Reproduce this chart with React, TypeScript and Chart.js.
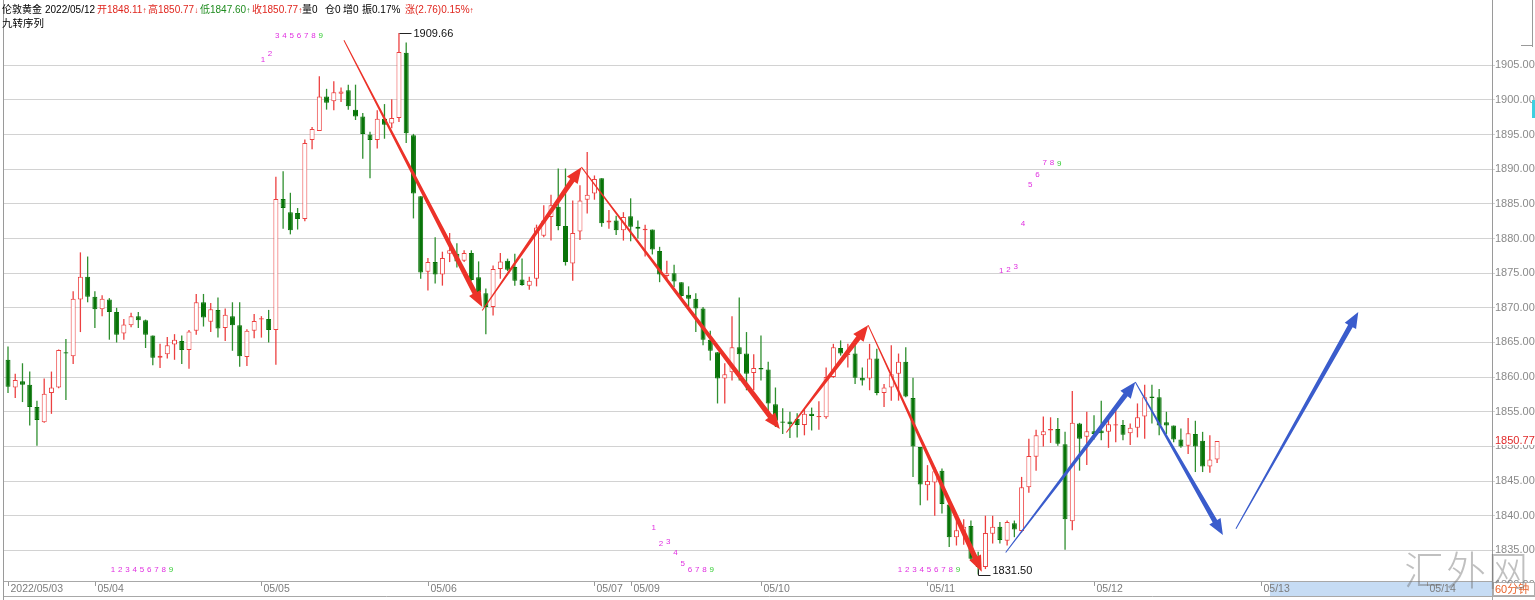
import React, { useEffect, useRef } from 'react';
import { Chart, registerables } from 'chart.js';
Chart.register(...registerables);

// ---- data (60-minute candles, index = bar number) ----
const OPEN = [
  1862.5, 1858.5, 1859.4, 1858.9, 1855.7, 1853.5, 1857.7, 1858.5, 1863.6, 1863.0,
  1871.2, 1874.5, 1871.6, 1869.8, 1871.2, 1869.4, 1866.3, 1867.5, 1868.8, 1868.2,
  1866.0, 1862.8, 1863.3, 1864.7, 1865.2, 1863.9, 1866.7, 1870.8, 1868.0, 1869.7,
  1867.1, 1868.8, 1867.5, 1862.9, 1866.7, 1868.3, 1868.4, 1866.8, 1885.7, 1883.8,
  1883.7, 1882.8, 1894.2, 1895.5, 1900.5, 1899.8, 1900.9, 1901.4, 1898.6, 1897.6,
  1895.0, 1894.2, 1897.3, 1896.6, 1897.4, 1906.8, 1894.9, 1886.1, 1875.2, 1876.6,
  1874.8, 1877.8, 1877.8, 1876.8, 1877.9, 1874.4, 1872.1, 1870.1, 1875.6, 1876.8,
  1875.9, 1874.1, 1873.2, 1874.2, 1880.4, 1883.1, 1884.6, 1881.8, 1876.4, 1881.0,
  1885.6, 1886.5, 1888.7, 1882.3, 1882.6, 1881.2, 1883.2, 1881.7, 1881.2, 1881.3,
  1878.2, 1874.6, 1875.0, 1873.7, 1871.9, 1871.3, 1869.9, 1865.4, 1863.6, 1859.8,
  1860.7, 1864.3, 1863.4, 1860.6, 1861.3, 1861.1, 1856.1, 1853.6, 1853.6, 1854.0,
  1853.1, 1854.7, 1854.2, 1854.2, 1860.0, 1864.2, 1863.2, 1863.4, 1859.9, 1859.8,
  1862.7, 1857.7, 1858.5, 1860.5, 1862.2, 1857.0, 1849.9, 1844.4, 1844.8, 1846.5,
  1841.6, 1836.9, 1837.6, 1838.5, 1833.8, 1832.6, 1837.4, 1838.4, 1836.4, 1838.9,
  1837.8, 1844.1, 1848.5, 1851.6, 1852.3, 1852.5, 1850.3, 1839.2, 1853.3, 1851.4,
  1852.2, 1852.3, 1852.1, 1853.0, 1853.1, 1851.9, 1852.7, 1854.3, 1857.2, 1857.1,
  1853.5, 1853.0, 1851.0, 1850.1, 1851.8, 1850.8, 1847.1, 1848.11,
];
const HIGH = [
  1864.4, 1860.5, 1862.0, 1860.8, 1856.6, 1859.8, 1860.8, 1864.0, 1865.5, 1872.4,
  1878.0, 1877.4, 1872.4, 1871.8, 1871.4, 1870.0, 1868.4, 1869.3, 1869.4, 1868.3,
  1866.0, 1864.8, 1865.8, 1866.2, 1866.0, 1866.8, 1872.0, 1872.0, 1870.7, 1871.5,
  1869.9, 1870.8, 1870.8, 1866.9, 1869.1, 1868.8, 1869.7, 1888.9, 1889.7, 1886.6,
  1884.4, 1894.3, 1896.1, 1903.4, 1901.6, 1902.7, 1901.8, 1902.2, 1902.2, 1898.1,
  1895.4, 1898.5, 1899.4, 1900.1, 1909.66, 1908.3, 1895.1, 1886.1, 1877.2, 1880.2,
  1878.1, 1880.8, 1879.3, 1878.3, 1878.3, 1876.7, 1872.8, 1876.1, 1877.9, 1877.1,
  1877.8, 1877.1, 1874.5, 1882.0, 1884.8, 1886.3, 1890.1, 1890.1, 1885.5, 1887.7,
  1892.5, 1889.1, 1888.7, 1884.1, 1883.3, 1883.8, 1885.8, 1882.6, 1882.0, 1881.3,
  1878.8, 1876.8, 1876.2, 1873.7, 1873.1, 1872.1, 1870.1, 1866.7, 1863.6, 1862.0,
  1868.8, 1871.5, 1866.5, 1863.3, 1866.0, 1862.2, 1858.5, 1855.5, 1855.0, 1854.8,
  1855.4, 1855.6, 1856.5, 1861.4, 1864.8, 1865.3, 1864.8, 1864.8, 1861.4, 1864.8,
  1864.1, 1859.0, 1864.6, 1863.4, 1864.3, 1859.9, 1849.9, 1847.3, 1847.0, 1846.8,
  1841.6, 1839.3, 1839.5, 1839.3, 1834.8, 1840.0, 1840.0, 1839.1, 1839.3, 1839.3,
  1845.6, 1851.1, 1852.4, 1854.3, 1854.2, 1854.1, 1852.1, 1858.0, 1853.4, 1855.0,
  1854.5, 1856.6, 1854.2, 1855.7, 1853.8, 1853.3, 1856.2, 1858.9, 1858.9, 1858.3,
  1855.0, 1853.0, 1852.6, 1854.1, 1853.7, 1852.1, 1851.6, 1850.77,
];
const LOW = [
  1857.7, 1857.0, 1856.4, 1853.0, 1850.1, 1853.4, 1854.7, 1858.4, 1856.7, 1861.9,
  1866.5, 1870.8, 1867.1, 1868.8, 1865.4, 1865.0, 1865.4, 1867.2, 1867.1, 1864.2,
  1861.7, 1861.3, 1862.7, 1862.5, 1861.9, 1861.2, 1866.1, 1867.3, 1866.5, 1865.7,
  1865.2, 1863.8, 1861.5, 1861.6, 1865.6, 1865.7, 1865.0, 1861.8, 1881.4, 1880.6,
  1881.3, 1882.5, 1892.9, 1895.5, 1898.6, 1898.5, 1899.7, 1898.6, 1897.1, 1891.5,
  1888.7, 1893.0, 1894.4, 1895.9, 1896.8, 1893.8, 1882.9, 1874.2, 1872.5, 1873.5,
  1873.2, 1876.6, 1875.8, 1876.6, 1873.9, 1871.5, 1866.2, 1868.9, 1874.2, 1875.3,
  1873.2, 1873.2, 1872.6, 1873.1, 1880.2, 1879.7, 1881.2, 1876.1, 1873.9, 1879.8,
  1883.6, 1885.6, 1881.7, 1881.4, 1880.5, 1879.7, 1879.6, 1880.0, 1877.4, 1877.7,
  1873.7, 1873.9, 1873.0, 1871.6, 1869.9, 1866.5, 1864.6, 1862.4, 1856.2, 1856.2,
  1859.5, 1859.5, 1858.1, 1858.1, 1859.5, 1854.7, 1852.8, 1851.8, 1851.2, 1851.3,
  1851.6, 1852.3, 1852.4, 1854.0, 1859.9, 1863.1, 1861.4, 1859.0, 1858.8, 1858.1,
  1857.4, 1855.7, 1856.6, 1856.6, 1857.1, 1845.6, 1841.5, 1842.2, 1840.0, 1840.3,
  1835.5, 1835.7, 1835.8, 1833.5, 1831.5, 1832.3, 1836.0, 1836.0, 1835.7, 1836.9,
  1837.6, 1843.3, 1846.5, 1850.0, 1850.5, 1850.1, 1835.1, 1837.9, 1846.5, 1847.3,
  1851.0, 1850.9, 1849.8, 1850.6, 1850.9, 1850.2, 1851.3, 1851.1, 1853.3, 1851.6,
  1851.8, 1850.6, 1849.8, 1848.9, 1846.3, 1846.3, 1846.2, 1847.6,
];
const CLOSE = [
  1858.6, 1859.6, 1858.9, 1855.7, 1853.8, 1857.6, 1858.5, 1863.9, 1863.4, 1871.3,
  1874.5, 1871.6, 1869.8, 1871.3, 1869.4, 1866.1, 1867.6, 1868.8, 1868.2, 1866.1,
  1862.8, 1863.1, 1864.6, 1865.4, 1863.9, 1866.6, 1870.8, 1868.6, 1869.8, 1867.0,
  1869.0, 1867.5, 1863.0, 1866.7, 1868.1, 1868.5, 1866.8, 1885.7, 1884.4, 1881.2,
  1882.8, 1893.8, 1895.8, 1900.5, 1899.6, 1901.1, 1901.2, 1899.1, 1897.6, 1895.1,
  1894.2, 1897.3, 1896.4, 1897.4, 1906.9, 1895.2, 1886.5, 1875.1, 1876.6, 1874.8,
  1877.2, 1878.3, 1876.7, 1877.9, 1874.0, 1872.3, 1870.1, 1875.6, 1876.7, 1875.5,
  1873.9, 1873.3, 1873.9, 1881.6, 1882.6, 1884.8, 1881.8, 1876.6, 1880.8, 1885.5,
  1886.3, 1888.6, 1882.2, 1882.6, 1881.2, 1883.1, 1881.7, 1881.4, 1881.4, 1878.4,
  1874.8, 1875.0, 1873.8, 1871.7, 1871.3, 1869.9, 1865.4, 1863.8, 1859.8, 1860.4,
  1864.3, 1863.3, 1860.5, 1861.3, 1861.1, 1856.2, 1853.7, 1853.4, 1853.2, 1853.1,
  1854.7, 1854.4, 1854.4, 1860.0, 1864.3, 1863.4, 1863.4, 1859.9, 1859.5, 1862.7,
  1857.7, 1858.5, 1860.4, 1862.2, 1857.2, 1850.0, 1844.5, 1845.0, 1846.4, 1841.7,
  1836.9, 1837.9, 1838.4, 1833.8, 1832.6, 1837.5, 1838.4, 1836.5, 1839.1, 1838.0,
  1844.1, 1848.6, 1851.6, 1852.2, 1852.5, 1850.4, 1839.5, 1853.4, 1851.1, 1852.2,
  1851.8, 1851.9, 1853.2, 1853.2, 1851.7, 1852.7, 1854.2, 1857.1, 1857.0, 1853.0,
  1853.0, 1851.0, 1850.0, 1851.9, 1850.0, 1847.1, 1848.1, 1850.77,
];

const DAY_INDEX = [0, 12, 35, 58, 81, 86, 104, 127, 150, 173, 196];
const DAY_LABEL = ['2022/05/03', '05/04', '05/05', '05/06', '05/07', '05/09', '05/10', '05/11', '05/12', '05/13', '05/14'];
const FUTURE_START = 174.3;

const Y_TICKS = [1830, 1835, 1840, 1845, 1850, 1855, 1860, 1865, 1870, 1875, 1880, 1885, 1890, 1895, 1900, 1905];

// trend arrows drawn on the chart: [startIndex, startPrice, endIndex, endPrice]
const RED_ARROWS = [
  [46.4, 1908.6, 65.5, 1870.1],
  [65.5, 1869.6, 79.2, 1890.3],
  [79.2, 1890.3, 106.6, 1852.5],
  [107.5, 1852.0, 118.8, 1867.5],
  [118.8, 1867.5, 134.5, 1831.9],
];
const BLUE_ARROWS = [
  [137.8, 1834.7, 155.7, 1859.3],
  [155.7, 1859.3, 167.8, 1837.2],
  [169.6, 1838.1, 186.5, 1869.4],
];

// 九转序列 counts: start index + price of each of the 9 labels
const TD_START = [35.2, 14.5, 89.2, 123.2, 137.2];
const TD_PRICES = [
  [1905.8, 1906.7, 1909.2, 1909.2, 1909.2, 1909.2, 1909.2, 1909.2, 1909.2],
  [1832.25, 1832.25, 1832.25, 1832.25, 1832.25, 1832.25, 1832.25, 1832.25, 1832.25],
  [1838.3, 1836.0, 1836.3, 1834.7, 1833.0, 1832.25, 1832.25, 1832.25, 1832.25],
  [1832.25, 1832.25, 1832.25, 1832.25, 1832.25, 1832.25, 1832.25, 1832.25, 1832.25],
  [1875.3, 1875.5, 1875.9, 1882.1, 1887.7, 1889.2, 1890.9, 1890.9, 1890.8],
];

const HIGH_MARK_INDEX = 54;
const LOW_MARK_INDEX = 134;
const CHANGE = 2.76;
const CHANGE_PCT = 0.15;
const AMPLITUDE = 0.17;

// ---- styles ----
const UP = '#ec4040';
const DOWN = '#087408';
const DOWN_WICK = '#2f8f2f';
const RED_ARROW = '#ec3229';
const BLUE_ARROW = '#3a5ccc';
const TD_PINK = '#e030e0';
const TD_GREEN = '#33cc33';
const FONT = '"Liberation Sans", Arial, "Noto Sans CJK SC", sans-serif';

function drawArrow(ctx: CanvasRenderingContext2D, x0: number, y0: number, x1: number, y1: number, color: string) {
  const dx = x1 - x0, dy = y1 - y0;
  const len = Math.hypot(dx, dy);
  const ux = dx / len, uy = dy / len;
  const nx = -uy, ny = ux;
  const headLen = 16, headW = 6.5, w0 = 0.5, w1 = 2.6;
  const bx = x1 - ux * headLen, by = y1 - uy * headLen;
  ctx.beginPath();
  ctx.moveTo(x0 + nx * w0, y0 + ny * w0);
  ctx.lineTo(bx + nx * w1, by + ny * w1);
  ctx.lineTo(bx + nx * headW, by + ny * headW);
  ctx.lineTo(x1, y1);
  ctx.lineTo(bx - nx * headW, by - ny * headW);
  ctx.lineTo(bx - nx * w1, by - ny * w1);
  ctx.lineTo(x0 - nx * w0, y0 - ny * w0);
  ctx.closePath();
  ctx.fillStyle = color;
  ctx.fill();
}

const decor = {
  id: 'decor',
  afterDatasetsDraw(chart: any) {
    const { ctx, scales } = chart;
    const xs = scales.x, ys = scales.y;
    const X = (i: number) => xs.getPixelForValue(i);
    const Y = (p: number) => ys.getPixelForValue(p);
    ctx.save();
    RED_ARROWS.forEach((a) => drawArrow(ctx, X(a[0]), Y(a[1]), X(a[2]), Y(a[3]), RED_ARROW));
    BLUE_ARROWS.forEach((a) => drawArrow(ctx, X(a[0]), Y(a[1]), X(a[2]), Y(a[3]), BLUE_ARROW));

    ctx.font = '8px ' + FONT;
    ctx.textAlign = 'center';
    ctx.textBaseline = 'middle';
    TD_PRICES.forEach((prices, g) => {
      prices.forEach((p, k) => {
        ctx.fillStyle = k === 8 ? TD_GREEN : TD_PINK;
        ctx.fillText(String(k + 1), X(TD_START[g] + k), Y(p));
      });
    });

    // high / low markers
    ctx.strokeStyle = '#222';
    ctx.lineWidth = 1;
    ctx.fillStyle = '#111';
    ctx.font = '11px ' + FONT;
    ctx.textAlign = 'left';
    const hx = Math.round(X(HIGH_MARK_INDEX)) + 0.5, hy = Math.round(Y(HIGH[HIGH_MARK_INDEX])) + 0.5;
    ctx.beginPath(); ctx.moveTo(hx, hy); ctx.lineTo(hx + 12, hy); ctx.stroke();
    ctx.textBaseline = 'middle';
    ctx.fillText(HIGH[HIGH_MARK_INDEX].toFixed(2), hx + 14, hy);
    const lx = Math.round(X(LOW_MARK_INDEX)) + 0.5, ly = Math.round(Y(LOW[LOW_MARK_INDEX])) + 0.5;
    ctx.beginPath(); ctx.moveTo(lx, ly - 6); ctx.lineTo(lx, ly); ctx.lineTo(lx + 12, ly); ctx.stroke();
    ctx.textBaseline = 'bottom';
    ctx.fillText(LOW[LOW_MARK_INDEX].toFixed(2), lx + 14, ly + 1);
    ctx.restore();
  },
  afterDraw(chart: any) {
    const { ctx, scales, chartArea } = chart;
    const xs = scales.x, ys = scales.y;
    const X = (i: number) => xs.getPixelForValue(i);
    const Y = (p: number) => ys.getPixelForValue(p);
    const L = chartArea.left, R = chartArea.right;
    ctx.save();
    // left border
    ctx.strokeStyle = '#9a9a9a';
    ctx.lineWidth = 1;
    ctx.beginPath(); ctx.moveTo(3.5, 0); ctx.lineTo(3.5, 600); ctx.stroke();
    // date strip
    ctx.fillStyle = '#ffffff';
    ctx.fillRect(L, 581, R - L, 16);
    const fx = X(FUTURE_START);
    ctx.fillStyle = '#c6dcf4';
    ctx.fillRect(fx, 582, R - fx, 14);
    ctx.strokeStyle = '#a8a8a8';
    ctx.beginPath();
    ctx.moveTo(L, 581.5); ctx.lineTo(R, 581.5);
    ctx.moveTo(L, 596.5); ctx.lineTo(1535, 596.5);
    ctx.moveTo(R + 0.5, 581); ctx.lineTo(R + 0.5, 600);
    ctx.stroke();
    ctx.font = '10.5px ' + FONT;
    ctx.fillStyle = '#7c7c7c';
    ctx.textAlign = 'left';
    ctx.textBaseline = 'middle';
    DAY_INDEX.forEach((d, k) => {
      const px = Math.round(X(d)) + 0.5;
      ctx.strokeStyle = '#999';
      ctx.beginPath(); ctx.moveTo(px, 582); ctx.lineTo(px, 586); ctx.stroke();
      ctx.fillText(DAY_LABEL[k], px + 2, 589.5);
    });
    // 60分钟 box
    ctx.fillStyle = '#ffffff';
    ctx.fillRect(R + 1, 582, 1535 - R - 1, 14);
    ctx.strokeStyle = '#b0b0b0';
    ctx.strokeRect(R + 1.5, 582.5, 41, 13);
    ctx.fillStyle = '#e8622a';
    ctx.font = '11px ' + FONT;
    ctx.fillText('60分钟', R + 3, 589.5);
    // last price label
    const cy = Y(CLOSE[CLOSE.length - 1]);
    ctx.fillStyle = '#ffffff';
    ctx.fillRect(R + 2, cy - 5, 1535 - R - 2, 9);
    ctx.fillStyle = '#e02828';
    ctx.fillText(CLOSE[CLOSE.length - 1].toFixed(2), R + 3, cy);
    // top-right marks
    ctx.strokeStyle = '#9a9a9a';
    ctx.beginPath(); ctx.moveTo(1532.5, 0); ctx.lineTo(1532.5, 47); ctx.moveTo(1521, 45.5); ctx.lineTo(1533, 45.5); ctx.stroke();
    ctx.fillStyle = '#3fd0e0';
    ctx.fillRect(1532, 100, 3, 18);
    // watermark
    ctx.fillStyle = 'rgba(105,105,105,0.42)';
    ctx.font = '300 40px "Noto Sans CJK SC", sans-serif';
    ctx.textBaseline = 'middle';
    ctx.fillText('汇', 1404, 570);
    ctx.fillText('外', 1446, 570);
    ctx.fillText('网', 1488, 570);
    ctx.restore();
  },
};

export default function App() {
  const ref = useRef<HTMLCanvasElement | null>(null);
  useEffect(() => {
    if (!ref.current) return;
    const idx = OPEN.map((_, i) => i);
    const isUp = (i: number) => CLOSE[i] >= OPEN[i];
    const chart = new Chart(ref.current, {
      type: 'bar',
      data: {
        datasets: [
          {
            label: 'body',
            data: idx.map((i) => ({ x: i, y: [OPEN[i], CLOSE[i]] })) as any,
            barThickness: 5,
            grouped: false,
            backgroundColor: (c: any) => (c.dataIndex !== undefined && isUp(c.dataIndex) ? '#ffffff' : DOWN),
            borderColor: (c: any) => (c.dataIndex !== undefined && isUp(c.dataIndex) ? UP : DOWN),
            borderWidth: 1,
            borderSkipped: false,
            inflateAmount: 0,
            order: 1,
          } as any,
          {
            label: 'wick',
            data: idx.map((i) => ({ x: i, y: [LOW[i], HIGH[i]] })) as any,
            barThickness: 1.3,
            grouped: false,
            backgroundColor: (c: any) => (c.dataIndex !== undefined && isUp(c.dataIndex) ? UP : DOWN_WICK),
            borderWidth: 0,
            inflateAmount: 0,
            order: 2,
          } as any,
        ],
      },
      options: {
        animation: false,
        responsive: false,
        maintainAspectRatio: false,
        layout: { padding: { left: 4, top: 0, right: 0, bottom: 15 } },
        plugins: { legend: { display: false }, tooltip: { enabled: false } },
        scales: {
          x: { type: 'linear', min: -0.5525, max: 204.97, display: false, offset: false },
          y: {
            position: 'right',
            min: 1830,
            max: 1914.42,
            afterFit: (s: any) => { s.width = 43; s.paddingTop = 0; s.paddingBottom = 0; },
            afterBuildTicks: (s: any) => { s.ticks = Y_TICKS.map((v) => ({ value: v })); },
            grid: { color: '#d2d2d2', tickLength: 3, drawTicks: true },
            border: { display: true, color: '#9a9a9a' },
            ticks: {
              color: '#8a8a8a',
              padding: 0,
              autoSkip: false,
              font: { size: 11, family: FONT },
              callback: (v: any) => Number(v).toFixed(2),
            },
          },
        },
      } as any,
      plugins: [decor],
    });
    return () => chart.destroy();
  }, []);

  const last = OPEN.length - 1;
  const red = '#e0261e', green = '#1f8c1f';
  const arrow = (s: string, c: string) => <span style={{ fontSize: 8, color: c }}>{s}</span>;
  const seg = (x: number, content: React.ReactNode, color = '#000') => (
    <span style={{ position: 'absolute', left: x, top: 0, color }}>{content}</span>
  );
  return (
    <div style={{ position: 'fixed', left: 0, top: 0, width: 1535, height: 600, background: '#fff', overflow: 'hidden' }}>
      <canvas ref={ref} width={1535} height={600} style={{ display: 'block', width: 1535, height: 600 }} />
      <div style={{ position: 'absolute', left: 0, top: 4, height: 12, lineHeight: '12px', fontSize: 10, fontFamily: FONT, whiteSpace: 'nowrap' }}>
        {seg(2, '伦敦黄金')}
        {seg(45, '2022/05/12')}
        {seg(97, <>开{OPEN[last].toFixed(2)}{arrow('↑', red)}</>, red)}
        {seg(148, <>高{HIGH[last].toFixed(2)}{arrow('↓', red)}</>, red)}
        {seg(200, <>低{LOW[last].toFixed(2)}{arrow('↑', green)}</>, green)}
        {seg(252, <>收{CLOSE[last].toFixed(2)}{arrow('↑', red)}</>, red)}
        {seg(302, '量0')}
        {seg(325, '仓0')}
        {seg(343, '增0')}
        {seg(362, `振${AMPLITUDE.toFixed(2)}%`)}
        {seg(405, <>涨({CHANGE.toFixed(2)}){CHANGE_PCT.toFixed(2)}%{arrow('↑', red)}</>, red)}
      </div>
      <div style={{ position: 'absolute', left: 2, top: 17, lineHeight: '12px', fontSize: 10.5, fontFamily: FONT, color: '#000' }}>九转序列</div>
    </div>
  );
}
